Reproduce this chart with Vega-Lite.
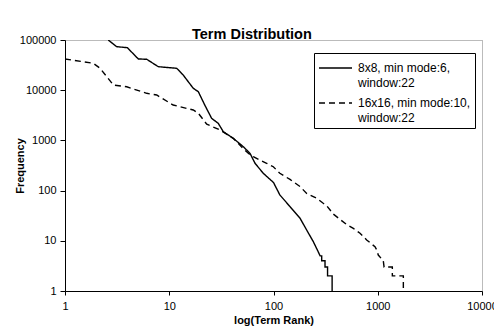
{
  "$schema": "https://vega.github.io/schema/vega-lite/v6.json",
  "width": 417,
  "height": 251,
  "autosize": "none",
  "padding": {"left": 65, "top": 40, "right": 12, "bottom": 43},
  "background": "white",
  "title": {"text": "Term Distribution", "anchor": "start", "frame": "group", "dx": 127, "dy": 10, "offset": 2, "fontSize": 14.5, "fontWeight": "bold", "font": "Liberation Sans", "color": "#000"},
  "data": {"values": [
    {"s": "8x8, min mode:6, window:22", "i": 1, "rank": 2.6, "freq": 100000},
    {"s": "8x8, min mode:6, window:22", "i": 2, "rank": 3.13, "freq": 73600},
    {"s": "8x8, min mode:6, window:22", "i": 3, "rank": 3.96, "freq": 70300},
    {"s": "8x8, min mode:6, window:22", "i": 4, "rank": 5.05, "freq": 41900},
    {"s": "8x8, min mode:6, window:22", "i": 5, "rank": 6.08, "freq": 41300},
    {"s": "8x8, min mode:6, window:22", "i": 6, "rank": 7.85, "freq": 29400},
    {"s": "8x8, min mode:6, window:22", "i": 7, "rank": 11.8, "freq": 27300},
    {"s": "8x8, min mode:6, window:22", "i": 8, "rank": 13.6, "freq": 20100},
    {"s": "8x8, min mode:6, window:22", "i": 9, "rank": 17, "freq": 10900},
    {"s": "8x8, min mode:6, window:22", "i": 10, "rank": 19, "freq": 9330},
    {"s": "8x8, min mode:6, window:22", "i": 11, "rank": 22, "freq": 4980},
    {"s": "8x8, min mode:6, window:22", "i": 12, "rank": 25.5, "freq": 2750},
    {"s": "8x8, min mode:6, window:22", "i": 13, "rank": 29.5, "freq": 2190},
    {"s": "8x8, min mode:6, window:22", "i": 14, "rank": 33, "freq": 1490},
    {"s": "8x8, min mode:6, window:22", "i": 15, "rank": 41.1, "freq": 1100},
    {"s": "8x8, min mode:6, window:22", "i": 16, "rank": 51.3, "freq": 750},
    {"s": "8x8, min mode:6, window:22", "i": 17, "rank": 59.5, "freq": 553},
    {"s": "8x8, min mode:6, window:22", "i": 18, "rank": 66.5, "freq": 350},
    {"s": "8x8, min mode:6, window:22", "i": 19, "rank": 79.8, "freq": 221},
    {"s": "8x8, min mode:6, window:22", "i": 20, "rank": 100, "freq": 145},
    {"s": "8x8, min mode:6, window:22", "i": 21, "rank": 115, "freq": 82},
    {"s": "8x8, min mode:6, window:22", "i": 22, "rank": 144, "freq": 48},
    {"s": "8x8, min mode:6, window:22", "i": 23, "rank": 180, "freq": 28},
    {"s": "8x8, min mode:6, window:22", "i": 24, "rank": 208, "freq": 16.4},
    {"s": "8x8, min mode:6, window:22", "i": 25, "rank": 241, "freq": 9.6},
    {"s": "8x8, min mode:6, window:22", "i": 26, "rank": 269, "freq": 6},
    {"s": "8x8, min mode:6, window:22", "i": 27, "rank": 280, "freq": 5},
    {"s": "8x8, min mode:6, window:22", "i": 28, "rank": 290, "freq": 5},
    {"s": "8x8, min mode:6, window:22", "i": 29, "rank": 290, "freq": 4},
    {"s": "8x8, min mode:6, window:22", "i": 30, "rank": 312, "freq": 4},
    {"s": "8x8, min mode:6, window:22", "i": 31, "rank": 312, "freq": 3},
    {"s": "8x8, min mode:6, window:22", "i": 32, "rank": 330, "freq": 3},
    {"s": "8x8, min mode:6, window:22", "i": 33, "rank": 330, "freq": 2},
    {"s": "8x8, min mode:6, window:22", "i": 34, "rank": 365, "freq": 2},
    {"s": "8x8, min mode:6, window:22", "i": 35, "rank": 365, "freq": 1},
    {"s": "16x16, min mode:10, window:22", "i": 1, "rank": 1, "freq": 41900},
    {"s": "16x16, min mode:10, window:22", "i": 2, "rank": 1.87, "freq": 34400},
    {"s": "16x16, min mode:10, window:22", "i": 3, "rank": 2.17, "freq": 27300},
    {"s": "16x16, min mode:10, window:22", "i": 4, "rank": 2.91, "freq": 12700},
    {"s": "16x16, min mode:10, window:22", "i": 5, "rank": 3.91, "freq": 11700},
    {"s": "16x16, min mode:10, window:22", "i": 6, "rank": 6.08, "freq": 8670},
    {"s": "16x16, min mode:10, window:22", "i": 7, "rank": 7.58, "freq": 8020},
    {"s": "16x16, min mode:10, window:22", "i": 8, "rank": 10.9, "freq": 5070},
    {"s": "16x16, min mode:10, window:22", "i": 9, "rank": 17, "freq": 4030},
    {"s": "16x16, min mode:10, window:22", "i": 10, "rank": 19, "freq": 3470},
    {"s": "16x16, min mode:10, window:22", "i": 11, "rank": 22.9, "freq": 2100},
    {"s": "16x16, min mode:10, window:22", "i": 12, "rank": 30.7, "freq": 1610},
    {"s": "16x16, min mode:10, window:22", "i": 13, "rank": 41.1, "freq": 1100},
    {"s": "16x16, min mode:10, window:22", "i": 14, "rank": 49, "freq": 757},
    {"s": "16x16, min mode:10, window:22", "i": 15, "rank": 57.3, "freq": 553},
    {"s": "16x16, min mode:10, window:22", "i": 16, "rank": 64, "freq": 473},
    {"s": "16x16, min mode:10, window:22", "i": 17, "rank": 86, "freq": 350},
    {"s": "16x16, min mode:10, window:22", "i": 18, "rank": 99.6, "freq": 299},
    {"s": "16x16, min mode:10, window:22", "i": 19, "rank": 115, "freq": 221},
    {"s": "16x16, min mode:10, window:22", "i": 20, "rank": 144, "freq": 167},
    {"s": "16x16, min mode:10, window:22", "i": 21, "rank": 180, "freq": 120},
    {"s": "16x16, min mode:10, window:22", "i": 22, "rank": 208, "freq": 88},
    {"s": "16x16, min mode:10, window:22", "i": 23, "rank": 260, "freq": 70},
    {"s": "16x16, min mode:10, window:22", "i": 24, "rank": 300, "freq": 56},
    {"s": "16x16, min mode:10, window:22", "i": 25, "rank": 324, "freq": 50},
    {"s": "16x16, min mode:10, window:22", "i": 26, "rank": 375, "freq": 34},
    {"s": "16x16, min mode:10, window:22", "i": 27, "rank": 504, "freq": 21},
    {"s": "16x16, min mode:10, window:22", "i": 28, "rank": 583, "freq": 17.7},
    {"s": "16x16, min mode:10, window:22", "i": 29, "rank": 676, "freq": 14.1},
    {"s": "16x16, min mode:10, window:22", "i": 30, "rank": 783, "freq": 10.4},
    {"s": "16x16, min mode:10, window:22", "i": 31, "rank": 941, "freq": 7.6},
    {"s": "16x16, min mode:10, window:22", "i": 32, "rank": 977, "freq": 6.6},
    {"s": "16x16, min mode:10, window:22", "i": 33, "rank": 1012, "freq": 5.2},
    {"s": "16x16, min mode:10, window:22", "i": 34, "rank": 1130, "freq": 4},
    {"s": "16x16, min mode:10, window:22", "i": 35, "rank": 1150, "freq": 3},
    {"s": "16x16, min mode:10, window:22", "i": 36, "rank": 1380, "freq": 3},
    {"s": "16x16, min mode:10, window:22", "i": 37, "rank": 1380, "freq": 2},
    {"s": "16x16, min mode:10, window:22", "i": 38, "rank": 1760, "freq": 2},
    {"s": "16x16, min mode:10, window:22", "i": 39, "rank": 1760, "freq": 1}
  ]},
  "mark": {"type": "line", "color": "black", "strokeWidth": 1.4, "clip": true},
  "encoding": {
    "x": {"field": "rank", "type": "quantitative",
      "scale": {"type": "log", "domain": [1, 10000]},
      "axis": {"values": [1, 10, 100, 1000, 10000], "format": "d", "title": "log(Term Rank)",
        "tickSize": 4, "labelPadding": 5, "titlePadding": 3, "labelFlush": false, "labelOverlap": false}},
    "y": {"field": "freq", "type": "quantitative",
      "scale": {"type": "log", "domain": [1, 100000]},
      "axis": {"values": [1, 10, 100, 1000, 10000, 100000], "format": "d", "title": "Frequency",
        "tickSize": 5, "labelPadding": 4, "titleX": -45, "titleY": 125.5, "titleAngle": -90,
        "titleAlign": "center", "titleBaseline": "middle", "labelOverlap": false}},
    "strokeDash": {"field": "s", "type": "nominal",
      "scale": {"domain": ["8x8, min mode:6, window:22", "16x16, min mode:10, window:22"], "range": [[1, 0], [6, 4]]},
      "legend": {"orient": "none", "legendX": 249, "legendY": 13, "title": null,
        "symbolType": "M-1,0H2.3", "symbolSize": 400, "symbolStrokeWidth": 1.4, "symbolStrokeColor": "black", "symbolFillColor": "transparent",
        "labelFontSize": 12, "labelColor": "#000", "labelFont": "Liberation Sans",
        "labelExpr": "[replace(datum.label, ' window:22', ''), 'window:22']",
        "labelLimit": 300, "strokeColor": "#000", "fillColor": "#fff", "padding": 4, "rowPadding": 3, "labelOffset": 18,
        "encode": {"labels": {"update": {"lineHeight": {"value": 15}}}}}},
    "order": {"field": "i", "type": "quantitative"}
  },
  "config": {
    "font": "Liberation Sans",
    "view": {"stroke": "#777", "strokeDash": [1, 1]},
    "axis": {"grid": false, "domainColor": "#000", "tickColor": "#000", "labelColor": "#000", "titleColor": "#000",
      "labelFontSize": 11, "titleFontSize": 11, "titleFontWeight": "bold", "labelFont": "Liberation Sans", "titleFont": "Liberation Sans"}
  }
}
